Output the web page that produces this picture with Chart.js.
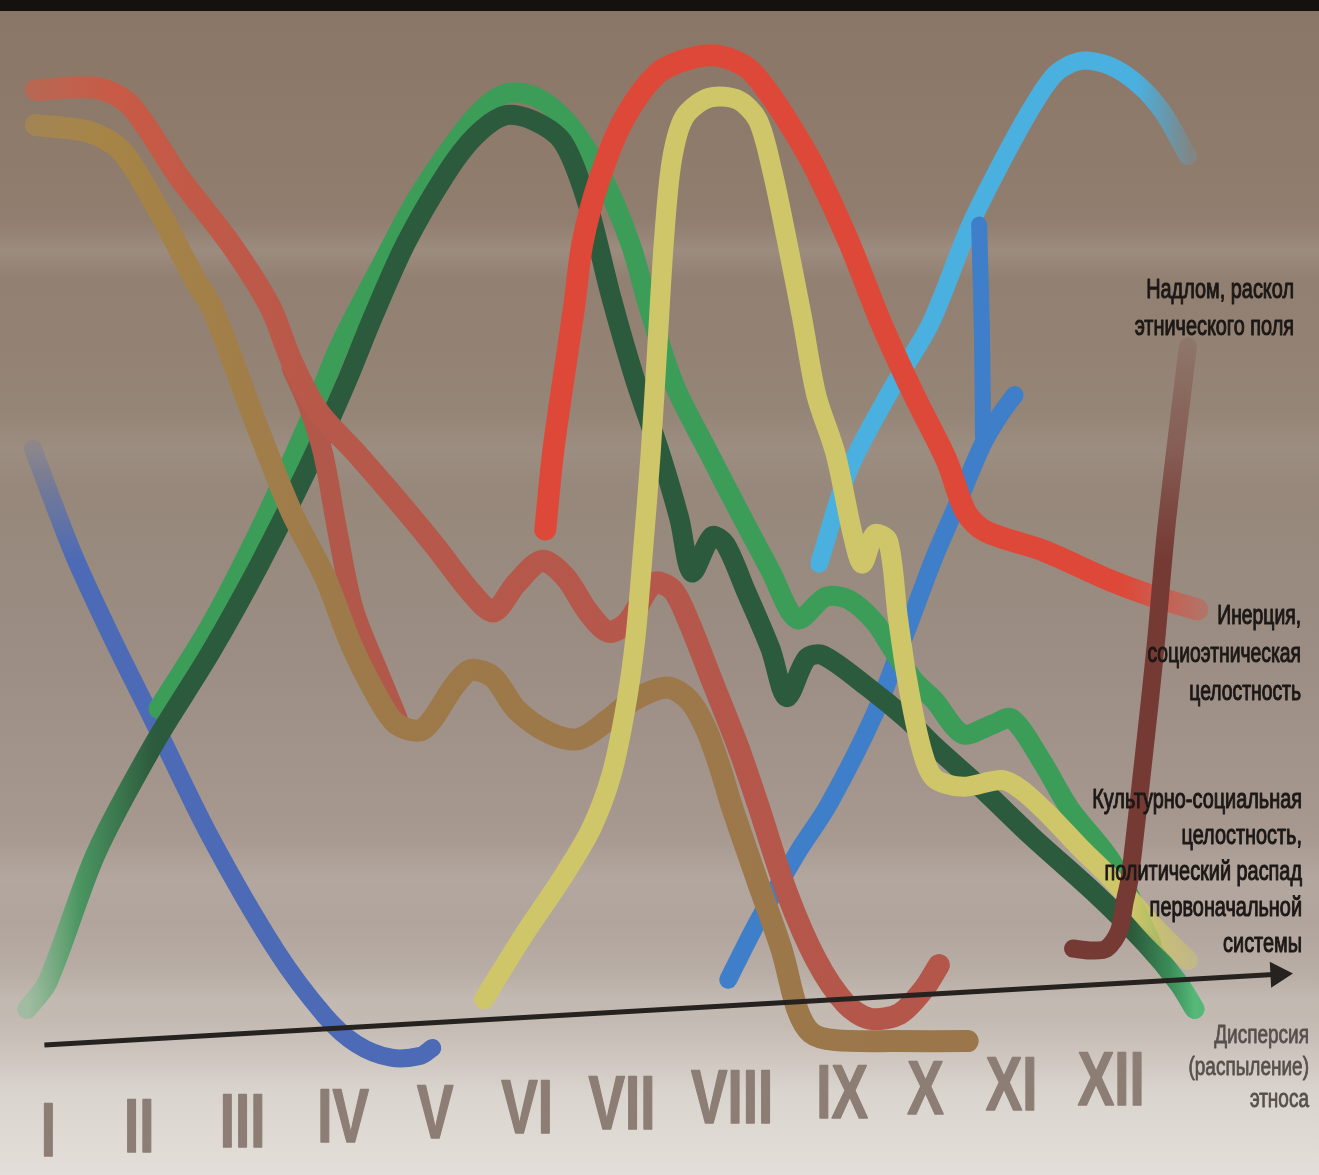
<!DOCTYPE html>
<html>
<head>
<meta charset="utf-8">
<script src="https://cdn.jsdelivr.net/npm/chart.js@4.4.1/dist/chart.umd.min.js"></script>
<style>
  html, body { margin: 0; padding: 0; background: #cfc6bf; }
  #wrap { width: 1319px; height: 1175px; position: relative; }
</style>
</head>
<body>
<div id="wrap"><canvas id="myChart"></canvas></div>
<script>
// periods on the horizontal axis
const periods = ['I', 'II', 'III', 'IV', 'V', 'VI', 'VII', 'VIII', 'IX', 'X', 'XI', 'XII'];
const periodX = [0.99, 1.94, 3.02, 4.07, 5.03, 5.99, 6.98, 8.13, 9.28, 10.15, 11.05, 12.09];

// curves (x in periods, y in relative level)
const blueX = [0.83, 1.26, 1.66, 2.10, 2.68, 3.37, 3.88, 4.21, 4.57, 4.88, 5.00];
const blueY = [61.5, 50.5, 42, 33.3, 21.7, 10, 3.3, 0.4, -1, -0.8, 0];

const darkGreenX = [0.77, 0.98, 1.49, 2.10, 2.68, 3.19, 3.70, 4.11, 4.38, 4.72, 5.13, 5.44, 5.76, 6.05, 6.36, 6.61, 6.87, 7.12, 7.38, 7.58,
  7.71, 7.92, 8.06, 8.27, 8.53, 8.70, 8.91, 9.08, 9.55, 9.96, 10.24, 10.75, 11.26, 11.94, 12.45, 12.79, 12.96];
const darkGreenY = [4, 6.7, 20, 31.3, 40.5, 49.5, 59.5, 68.5, 75, 82.5, 89.5, 93.5, 95.7, 95.2, 93, 87, 77, 68.5, 61, 54.3,
  48.8, 52.5, 51.7, 47, 41, 36, 40, 40.3, 37, 33.7, 31, 26.5, 21.7, 15.7, 10.7, 6.7, 4];

const greenX = [2.14, 2.68, 3.19, 3.70, 4.03, 4.45, 4.83, 5.24, 5.54, 5.80, 6.10, 6.41, 6.77, 7.07, 7.26, 7.53, 7.89, 8.19, 8.53, 8.81,
  9.11, 9.35, 9.62, 9.80, 10.03, 10.24, 10.54, 10.85, 11.05, 11.36, 11.66, 12.10, 12.51];
const greenY = [34.8, 43.3, 53, 64, 72, 80, 87, 93, 96.5, 98, 97.5, 95, 89.5, 82.5, 76, 68, 61, 55.3, 49, 44,
  46.3, 46, 43.7, 41, 37.7, 35.7, 32.2, 33.2, 33.8, 29.5, 24.5, 19, 10.7];

const brickX = [0.86, 1.50, 1.85, 2.36, 2.88, 3.31, 3.53, 3.81, 4.21, 4.59, 5.03, 5.41, 5.64, 5.88, 6.15, 6.39, 6.63, 6.84, 7.04, 7.31,
  7.51, 7.68, 7.92, 8.19, 8.40, 8.70, 9.01, 9.32, 9.57, 9.88, 10.13, 10.29];
const brickY = [98.3, 98.5, 96.7, 89.3, 82.7, 76, 70.5, 65.3, 61, 56.7, 51.5, 46.7, 44.8, 47.7, 50, 48.3, 44.7, 42.7, 43.7, 47.7,
  47, 43.7, 37.7, 31, 25, 16, 9, 4.5, 3, 3.5, 6, 8.5];

const brickForkX = [3.53, 3.70, 3.86, 4.01, 4.18, 4.45, 4.64];
const brickForkY = [69.8, 66, 61, 53, 45, 38.3, 33.8];

const ochreX = [0.86, 1.42, 1.76, 2.14, 2.53, 2.70, 3.19, 3.53, 3.88, 4.14, 4.39, 4.62, 4.90, 5.24, 5.41, 5.64, 5.88, 6.23, 6.53, 6.84,
  7.10, 7.45, 7.68, 7.86, 8.02, 8.12, 8.40, 8.65, 8.81, 8.96, 9.21, 9.83, 10.59];
const ochreY = [94.7, 94, 92, 86, 78.7, 76, 63.3, 55, 48.3, 41.7, 36.7, 33.3, 32.7, 37.3, 38.8, 38, 34.7, 32.3, 31.7, 33.7,
  35.7, 37, 35.7, 32.7, 28.3, 25, 17, 10, 4, 1.5, 0.8, 0.7, 0.7];

const redX = [6.18, 6.26, 6.36, 6.48, 6.57, 6.75, 7.00, 7.35, 7.68, 7.99, 8.30, 8.55, 8.81, 9.01, 9.35, 9.69, 10.03, 10.37, 10.57, 10.78,
  11.39, 12.07, 12.48, 12.99];
const redY = [53.2, 61, 68, 76, 82.7, 89.3, 95.3, 100, 101.5, 101.8, 100.5, 97.5, 93.5, 90, 82.7, 74.3, 67, 60.3, 55, 53,
  51, 48, 46.5, 45];

const yellowX = [5.54, 5.95, 6.36, 6.66, 6.87, 7.02, 7.12, 7.20, 7.28, 7.35, 7.42, 7.50, 7.63, 7.89, 8.19, 8.40, 8.55, 8.70, 8.86, 9.01,
  9.21, 9.39, 9.49, 9.62, 9.76, 9.86, 9.96, 10.10, 10.24, 10.54, 10.95, 11.15, 11.43, 11.77, 12.10, 12.55, 12.89];
const yellowY = [5, 11.5, 17.5, 22.5, 28, 35, 42, 51, 61, 72, 83, 91, 95.5, 97.5, 97.3, 95.2, 90, 83, 75, 67,
  61, 52.7, 49.7, 52.7, 52, 44.3, 37.7, 31, 27.7, 26.8, 27.5, 26.5, 24, 20.5, 17.3, 12.3, 9];

const skyX = [9.04, 9.35, 9.80, 10.20, 10.61, 10.95, 11.26, 11.51, 11.77, 12.07, 12.38, 12.63, 12.89];
const skyY = [49.7, 59.3, 67.7, 74.3, 84.3, 91, 96.5, 100, 101.3, 100.8, 98.8, 96, 91.5];

const midBlueX = [8.09, 8.40, 8.81, 9.14, 9.62, 9.96, 10.24, 10.49, 10.75, 10.93, 11.08];
const midBlueY = [7, 13, 20, 25, 34.3, 43, 50.3, 56, 62, 65, 67];

const linkX = [10.75, 10.74, 10.71];
const linkY = [62.8, 73, 84.5];

const brownX = [11.69, 11.87, 12.04, 12.17, 12.23, 12.28, 12.35, 12.43, 12.55, 12.66, 12.79, 12.89];
const brownY = [10.2, 10, 10.2, 12, 15, 17.3, 23, 30, 41, 53, 64, 72];

const axisX = [0.95, 13.83];
const axisY = [0.3, 7.55];

// text on the right side
const labelTop = ['Надлом, раскол', 'этнического поля'];
const labelMid = ['Инерция,', 'социоэтническая', 'целостность'];
const labelLow = ['Культурно-социальная', 'целостность,', 'политический распад', 'первоначальной', 'системы'];
const labelEnd = ['Дисперсия', '(распыление)', 'этноса'];

function pts(xs, ys) {
  return xs.map((x, i) => ({ x: x, y: ys[i] }));
}

function hFade(stops, fallback) {
  return function (c) {
    const ch = c.chart;
    if (!ch.chartArea) return fallback;
    const sc = ch.scales.x;
    const a = sc.getPixelForValue(stops[0][0]);
    const b = sc.getPixelForValue(stops[stops.length - 1][0]);
    const g = ch.ctx.createLinearGradient(a, 0, b, 0);
    stops.forEach(s => g.addColorStop((sc.getPixelForValue(s[0]) - a) / (b - a), s[1]));
    return g;
  };
}

function vFade(stops, fallback) {
  return function (c) {
    const ch = c.chart;
    if (!ch.chartArea) return fallback;
    const sc = ch.scales.y;
    const a = sc.getPixelForValue(stops[0][0]);
    const b = sc.getPixelForValue(stops[stops.length - 1][0]);
    const g = ch.ctx.createLinearGradient(0, a, 0, b);
    stops.forEach(s => g.addColorStop((sc.getPixelForValue(s[0]) - a) / (b - a), s[1]));
    return g;
  };
}

function curve(label, xs, ys, color, width, order) {
  return {
    label: label,
    data: pts(xs, ys),
    borderColor: color,
    borderWidth: width,
    borderCapStyle: 'round',
    borderJoinStyle: 'round',
    pointRadius: 0,
    tension: 0.3,
    fill: false,
    order: order
  };
}

const paper = {
  id: 'paper',
  beforeDraw(chart) {
    const { ctx, width, height } = chart;
    ctx.save();
    const g = ctx.createLinearGradient(0, 0, 0, height);
    g.addColorStop(0.00, '#8a7666');
    g.addColorStop(0.15, '#8f7c6d');
    g.addColorStop(0.35, '#958577');
    g.addColorStop(0.55, '#9b8d83');
    g.addColorStop(0.70, '#a6988f');
    g.addColorStop(0.80, '#b3a79f');
    g.addColorStop(0.86, '#c0b6ae');
    g.addColorStop(0.90, '#cec6bf');
    g.addColorStop(0.93, '#dad4ce');
    g.addColorStop(1.00, '#e3ded9');
    ctx.fillStyle = g;
    ctx.fillRect(0, 0, width, height);
    // soft light streaks of the photo
    [[250, 30, 0.10], [450, 40, 0.06], [880, 40, 0.08], [1000, 25, 0.08]].forEach(b => {
      const s = ctx.createLinearGradient(0, b[0] - b[1], 0, b[0] + b[1]);
      s.addColorStop(0, 'rgba(255,255,255,0)');
      s.addColorStop(0.5, 'rgba(255,255,255,' + b[2] + ')');
      s.addColorStop(1, 'rgba(255,255,255,0)');
      ctx.fillStyle = s;
      ctx.fillRect(0, b[0] - b[1], width, b[1] * 2);
    });
    ctx.fillStyle = '#14110f';
    ctx.fillRect(0, 0, width, 11);
    ctx.restore();
  }
};

function squeezed(ctx, text, x, y, sx, bold) {
  ctx.save();
  ctx.translate(x, y);
  ctx.scale(sx, 1);
  ctx.fillText(text, 0, 0);
  if (bold) {
    ctx.lineWidth = bold;
    ctx.strokeText(text, 0, 0);
  }
  ctx.restore();
}

const texts = {
  id: 'texts',
  afterDatasetsDraw(chart) {
    const { ctx } = chart;
    const xs = chart.scales.x, ys = chart.scales.y;
    ctx.save();
    ctx.textBaseline = 'alphabetic';
    ctx.lineJoin = 'round';

    // roman numerals under the axis, following the slant of the photo
    ctx.font = 'bold 76px "Liberation Sans", Arial, sans-serif';
    ctx.fillStyle = '#8c7d75';
    ctx.strokeStyle = '#8c7d75';
    ctx.textAlign = 'center';
    periods.forEach((p, i) => {
      const v = periodX[i];
      squeezed(ctx, p, xs.getPixelForValue(v), ys.getPixelForValue(-11.1 + (v - 1) * 0.47), 0.72, 1.5);
    });

    // phase names
    ctx.textAlign = 'right';
    ctx.fillStyle = '#1c1816';
    ctx.strokeStyle = '#1c1816';
    ctx.font = '28px "Liberation Sans", Arial, sans-serif';
    labelTop.forEach((t, i) => squeezed(ctx, t, 1294, 298 + i * 37, 0.71, 1.1));
    labelMid.forEach((t, i) => squeezed(ctx, t, 1301, 624 + i * 38, 0.69, 1.1));
    labelLow.forEach((t, i) => squeezed(ctx, t, 1302, 808 + i * 36, 0.71, 1.1));

    ctx.fillStyle = '#57504b';
    ctx.strokeStyle = '#57504b';
    ctx.font = '25px "Liberation Sans", Arial, sans-serif';
    labelEnd.forEach((t, i) => squeezed(ctx, t, 1309, 1043 + i * 32, 0.76, 0.8));
    ctx.restore();
  }
};

const ctx = document.getElementById('myChart');

const chart = new Chart(ctx, {
  type: 'line',
  data: {
    datasets: [
      {
        label: 'axis',
        data: pts(axisX, axisY),
        borderColor: '#25221f',
        borderWidth: 5,
        pointRadius: [0, 15],
        pointStyle: 'triangle',
        pointRotation: 87,
        pointBackgroundColor: '#25221f',
        pointBorderWidth: 0,
        tension: 0,
        order: 0
      },
      curve('brown', brownX, brownY, vFade([[50, 'rgba(118,58,52,1)'], [73, 'rgba(118,58,52,0.15)']], '#763a34'), 18, 1),
      curve('red', redX, redY, hFade([[6, 'rgba(222,72,56,1)'], [12.2, 'rgba(222,72,56,1)'], [13.05, 'rgba(222,72,56,0.35)']], '#de4838'), 22, 2),
      curve('yellow', yellowX, yellowY, hFade([[5.5, 'rgba(206,198,104,1)'], [12.3, 'rgba(206,198,104,1)'], [12.95, 'rgba(206,198,104,0.45)']], '#cec668'), 20, 3),
      curve('ochre', ochreX, ochreY, hFade([[0.8, 'rgba(176,140,66,0.55)'], [1.6, 'rgba(166,132,70,1)'], [4, 'rgba(158,122,74,1)'], [10.6, 'rgba(154,118,74,1)']], '#9e7a4a'), 22, 4),
      curve('brick', brickX, brickY, hFade([[0.8, 'rgba(210,92,68,0.6)'], [1.7, 'rgba(200,90,70,1)'], [4, 'rgba(182,88,74,1)'], [10.3, 'rgba(180,86,74,1)']], '#b6584a'), 22, 5),
      curve('brick fork', brickForkX, brickForkY, '#b2584b', 20, 6),
      curve('dark green', darkGreenX, darkGreenY, hFade([[0.77, 'rgba(120,190,140,0.45)'], [1.3, 'rgba(70,150,95,0.95)'], [2.1, 'rgba(44,90,60,1)'], [12.3, 'rgba(44,90,60,1)'], [12.7, 'rgba(58,140,88,1)'], [12.96, 'rgba(86,184,120,1)']], '#2c5a3c'), 20, 7),
      curve('green', greenX, greenY, '#3c9d58', 20, 8),
      curve('blue', blueX, blueY, vFade([[63, 'rgba(76,106,182,0.1)'], [50, 'rgba(76,106,182,1)']], '#4c6ab6'), 18, 9),
      curve('link', linkX, linkY, '#3f7ec8', 16, 10),
      curve('mid blue', midBlueX, midBlueY, '#3f7ec8', 18, 11),
      curve('sky', skyX, skyY, hFade([[9, 'rgba(74,176,224,1)'], [12.35, 'rgba(74,176,224,1)'], [12.92, 'rgba(74,176,224,0.2)']], '#4ab0e0'), 18, 12)
    ]
  },
  options: {
    responsive: true,
    maintainAspectRatio: false,
    animation: false,
    layout: { padding: 0 },
    plugins: {
      legend: { display: false },
      tooltip: { enabled: false }
    },
    scales: {
      x: { type: 'linear', min: 0.643, max: 14.102, display: false },
      y: { type: 'linear', min: -11.5, max: 106, display: false }
    }
  },
  plugins: [paper, texts]
});
</script>
</body>
</html>
